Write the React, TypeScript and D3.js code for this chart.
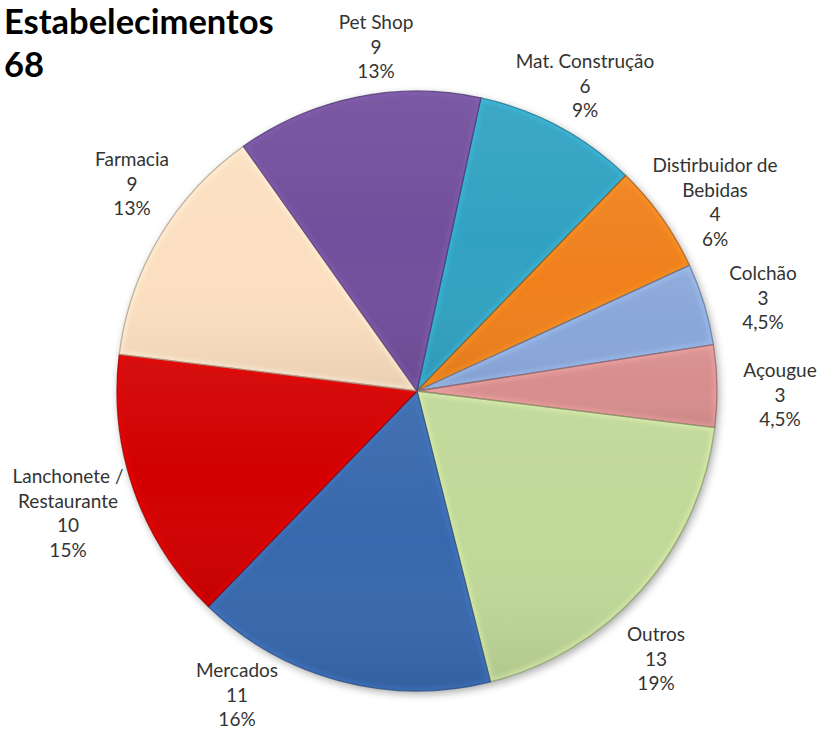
import React from "react";
import * as d3 from "d3";

const categories = ["Mat. Construção", "Distirbuidor de Bebidas", "Colchão", "Açougue", "Outros", "Mercados", "Lanchonete / Restaurante", "Farmacia", "Pet Shop"];
const values = [6, 4, 3, 3, 13, 11, 10, 9, 9];
const percentLabels = ["9%", "6%", "4,5%", "4,5%", "19%", "16%", "15%", "13%", "13%"];
const labelLines = [["Mat. Construção"], ["Distirbuidor de", "Bebidas"], ["Colchão"], ["Açougue"], ["Outros"], ["Mercados"], ["Lanchonete /", "Restaurante"], ["Farmacia"], ["Pet Shop"]];
const colors = ["#30A2C2", "#F0801C", "#8AA7DA", "#D78E8D", "#C0D898", "#3767AD", "#D20000", "#FCDFC0", "#72509C"];
const title = "Estabelecimentos";
const total = "68";

// label placement (manually positioned in original chart): center x, first baseline y
const labelLayout: [number, number][] = [
  [585, 68], [715, 172], [763, 280], [780, 377], [656, 641], [237, 677], [68, 483], [132, 166], [376, 29],
];

const W = 818, H = 729;
const cx = 417, cy = 391, R = 300;
const startDeg = 12.3;

export default function App() {
  const pie = d3.pie<number>().sort(null).value((d) => d)
    .startAngle((startDeg * Math.PI) / 180)
    .endAngle((startDeg * Math.PI) / 180 + 2 * Math.PI);
  const arcs = pie(values);
  const arc = d3.arc<d3.PieArcDatum<number>>().innerRadius(0).outerRadius(R);
  const font = "Lato, 'Open Sans', sans-serif";
  const lineH = 24.5;
  return (
    <svg width={W} height={H} style={{ position: "absolute", left: 0, top: 0, background: "#fff" }} fontFamily={font}>
      <defs>
        <filter id="shadow" x="-20%" y="-20%" width="140%" height="140%">
          <feGaussianBlur in="SourceAlpha" stdDeviation="4" />
          <feOffset dx="2" dy="3" result="ob" />
          <feComponentTransfer><feFuncA type="linear" slope="0.35" /></feComponentTransfer>
          <feMerge><feMergeNode /><feMergeNode in="SourceGraphic" /></feMerge>
        </filter>
        <filter id="blur"><feGaussianBlur stdDeviation="2" /></filter>
        <linearGradient id="shade" x1="0" y1="0" x2="0" y2="1">
          <stop offset="0" stopColor="#fff" stopOpacity="0.06" />
          <stop offset="0.5" stopColor="#fff" stopOpacity="0" />
          <stop offset="1" stopColor="#000" stopOpacity="0.08" />
        </linearGradient>
        {arcs.map((a, i) => (
          <clipPath id={`clip${i}`} key={i}>
            <path d={arc(a) || ""} />
          </clipPath>
        ))}
      </defs>
      <g transform={`translate(${cx},${cy})`}>
        <g filter="url(#shadow)">
          {arcs.map((a, i) => (
            <path key={i} d={arc(a) || ""} fill={colors[i]} />
          ))}
        </g>
        {arcs.map((a, i) => {
          const c = d3.color(colors[i])!;
          return (
            <g key={i}>
              <g clipPath={`url(#clip${i})`}>
                <path d={arc(a) || ""} fill="url(#shade)" />
                <path d={arc(a) || ""} fill="none" stroke={c.brighter(0.6).formatHex()} strokeWidth={7} strokeOpacity={0.4} filter="url(#blur)" />
              </g>
              <path d={arc(a) || ""} fill="none" stroke={c.darker(1).formatHex()} strokeWidth={1.3} strokeOpacity={0.75} strokeLinejoin="round" />
            </g>
          );
        })}
      </g>
      <g fill="#000" fontWeight="bold" fontSize={34.5} fontFamily={font}>
        <text x={4} y={34}>{title}</text>
        <text x={4} y={77}>{total}</text>
      </g>
      <g fill="#333" fontSize={19} textAnchor="middle">
        {categories.map((_, i) => {
          const lines = [...labelLines[i], String(values[i]), percentLabels[i]];
          const [lx, ly] = labelLayout[i];
          return (
            <text key={i}>
              {lines.map((t, j) => (
                <tspan key={j} x={lx} y={ly + j * lineH}>{t}</tspan>
              ))}
            </text>
          );
        })}
      </g>
    </svg>
  );
}
